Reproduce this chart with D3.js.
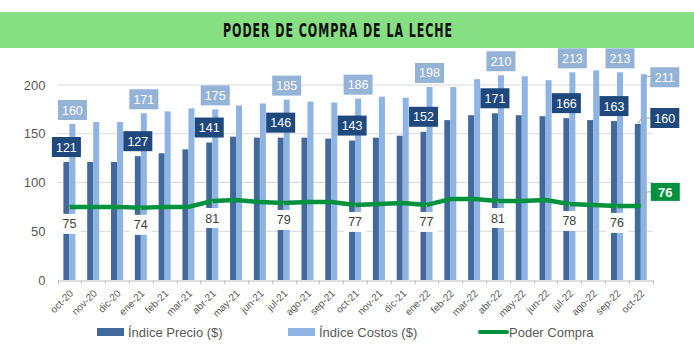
<!DOCTYPE html>
<html>
<head>
<meta charset="utf-8">
<script src="https://cdn.jsdelivr.net/npm/d3@7"></script>
<style>
  body { margin: 0; background: #fff; }
  svg { display: block; }
</style>
</head>
<body>
<script>
var meses = ["oct-20","nov-20","dic-20","ene-21","feb-21","mar-21","abr-21","may-21","jun-21","jul-21","ago-21","sep-21","oct-21","nov-21","dic-21","ene-22","feb-22","mar-22","abr-22","may-22","jun-22","jul-22","ago-22","sep-22","oct-22"];
var precio = [121,121,121,127,130,134,141,147,146,146,146,145,143,146,148,152,164,169,171,169,168,166,164,163,160];
var costos = [160,162,162,171,173,176,175,179,181,185,183,182,186,188,187,198,198,206,210,209,205,213,215,213,211];
var poder  = [75,75,75,74,75,75,81,82,80,79,80,80,77,78,79,77,83,83,81,81,82,78,77,76,76];
var yTicks = [0,50,100,150,200];
// months that carry a value label
var conEtiqueta = [0,3,6,9,12,15,18,21,23,24];

var W = 694, H = 348;
var C_PRECIO = "#41699c", C_COSTOS = "#8eb4e3", C_PODER = "#00923f";
var BOX_PRECIO = "#1f497d", BOX_COSTOS = "#95b3d7";
var FONT = "'Liberation Sans', Arial, sans-serif";

var svg = d3.select("body").append("svg")
  .attr("width", W)
  .attr("height", H);

// title band
svg.append("rect")
  .attr("x", 0).attr("y", 12)
  .attr("width", W).attr("height", 36)
  .attr("fill", "#86df82");
svg.append("text")
  .attr("x", 338).attr("y", 37)
  .attr("text-anchor", "middle")
  .attr("font-family", "'Liberation Sans Narrow', 'DejaVu Sans Condensed', sans-serif")
  .attr("font-weight", "bold")
  .attr("font-size", 19.5)
  .attr("letter-spacing", 1.5)
  .attr("textLength", 230)
  .attr("lengthAdjust", "spacingAndGlyphs")
  .attr("fill", "#111")
  .text("PODER DE COMPRA DE LA LECHE");

var x = d3.scaleBand().domain(meses).range([57.5, 652.7]).padding(0);
var y = d3.scaleLinear().domain([0, 200]).range([280, 85]);
var barW = 6;

// gridlines
svg.append("g").selectAll("line")
  .data(yTicks.slice(1))
  .join("line")
  .attr("x1", 57.5).attr("x2", 652.7)
  .attr("y1", d => y(d)).attr("y2", d => y(d))
  .attr("stroke", "#d9d9d9").attr("stroke-width", 1);

// y axis labels
var yAxis = d3.axisLeft(y).tickValues(yTicks).tickSize(0).tickPadding(12);
var gy = svg.append("g").attr("transform", "translate(57.5,0)").call(yAxis);
gy.select(".domain").remove();
gy.selectAll("text")
  .attr("font-family", FONT).attr("font-size", 13).attr("fill", "#595959");

// bars
var gb = svg.append("g");
gb.selectAll(".precio")
  .data(precio)
  .join("rect")
  .attr("class", "precio")
  .attr("x", (d, i) => x(meses[i]) + x.bandwidth() / 2 - barW)
  .attr("y", d => y(d))
  .attr("width", barW)
  .attr("height", d => y(0) - y(d))
  .attr("fill", C_PRECIO);
gb.selectAll(".costos")
  .data(costos)
  .join("rect")
  .attr("class", "costos")
  .attr("x", (d, i) => x(meses[i]) + x.bandwidth() / 2)
  .attr("y", d => y(d))
  .attr("width", barW)
  .attr("height", d => y(0) - y(d))
  .attr("fill", C_COSTOS);

// x axis with ticks at category edges
var xAxis = d3.axisBottom(x).tickSize(0).tickPadding(0);
var gx = svg.append("g").attr("transform", "translate(0,280.5)").call(xAxis);
gx.select(".domain").attr("stroke", "#bfbfbf");
gx.selectAll("text")
  .attr("font-family", FONT).attr("font-size", 10).attr("fill", "#595959")
  .attr("text-anchor", "end")
  .attr("x", 0).attr("y", 0).attr("dy", "0.35em")
  .attr("transform", "translate(2,11) rotate(-45)");
svg.append("g").selectAll("line")
  .data(meses.concat(["_fin"]))
  .join("line")
  .attr("x1", (d, i) => Math.round(57.5 + i * x.bandwidth()) + 0.5)
  .attr("x2", (d, i) => Math.round(57.5 + i * x.bandwidth()) + 0.5)
  .attr("y1", 280.5).attr("y2", 284)
  .attr("stroke", "#bfbfbf");

// poder de compra line
var linea = d3.line()
  .x((d, i) => x(meses[i]) + x.bandwidth() / 2)
  .y(d => y(d));
svg.append("path")
  .datum(poder)
  .attr("d", linea)
  .attr("fill", "none")
  .attr("stroke", C_PODER)
  .attr("stroke-width", 4.5)
  .attr("stroke-linejoin", "round");

// value labels
var gl = svg.append("g");
function etiqueta(cx, cy, w, txt, fondo, color) {
  gl.append("rect")
    .attr("x", cx - w / 2).attr("y", cy - 10)
    .attr("width", w).attr("height", 20)
    .attr("fill", fondo);
  gl.append("text")
    .attr("x", cx).attr("y", cy + 4.5)
    .attr("text-anchor", "middle")
    .attr("font-family", FONT).attr("font-size", 12.5)
    .attr("fill", color)
    .text(txt);
}
function guia(x1, y1, x2, y2) {
  gl.append("line")
    .attr("x1", x1).attr("y1", y1).attr("x2", x2).attr("y2", y2)
    .attr("stroke", "#a6a6a6").attr("stroke-width", 1);
}

conEtiqueta.forEach(function(i) {
  var cx = x(meses[i]) + x.bandwidth() / 2;
  var ultimo = i === meses.length - 1;
  if (!ultimo) {
    var yl = y(poder[i]);
    guia(cx, yl, cx, yl + 8);
    etiqueta(cx, yl + 17, 22, poder[i], "#fff", "#404040");
    etiqueta(cx + 3, y(costos[i]) - 14, 29, costos[i], BOX_COSTOS, "#fff");
    etiqueta(cx - 3, y(precio[i]) - 15, 29, precio[i], BOX_PRECIO, "#fff");
  } else {
    var lx = cx + 24;
    guia(cx + 3, y(costos[i]) + 2, lx - 14, y(costos[i]) + 2);
    etiqueta(lx, y(costos[i]) + 3, 29, costos[i], BOX_COSTOS, "#fff");
    guia(cx - 3, y(precio[i]), cx + 1, y(precio[i]) - 6);
    guia(cx + 1, y(precio[i]) - 6, lx - 14, y(precio[i]) - 6);
    etiqueta(lx, y(precio[i]) - 6, 29, precio[i], BOX_PRECIO, "#fff");
    guia(cx + 2, y(poder[i]), cx + 6, y(poder[i]) - 14);
    guia(cx + 6, y(poder[i]) - 14, lx - 14, y(poder[i]) - 14);
    gl.append("rect")
      .attr("x", lx - 14).attr("y", y(poder[i]) - 23)
      .attr("width", 29).attr("height", 18)
      .attr("fill", C_PODER);
    gl.append("text")
      .attr("x", lx + 0.5).attr("y", y(poder[i]) - 9)
      .attr("text-anchor", "middle")
      .attr("font-family", FONT).attr("font-size", 13).attr("font-weight", "bold")
      .attr("fill", "#fff")
      .text(poder[i]);
  }
});

// legend
var leyenda = [
  {nombre: "Índice Precio ($)", color: C_PRECIO, tipo: "barra", x: 97},
  {nombre: "Índice Costos ($)", color: C_COSTOS, tipo: "barra", x: 288},
  {nombre: "Poder Compra", color: C_PODER, tipo: "linea", x: 478}
];
var gleg = svg.append("g");
leyenda.forEach(function(d) {
  if (d.tipo === "barra") {
    gleg.append("rect")
      .attr("x", d.x).attr("y", 328)
      .attr("width", 27).attr("height", 8)
      .attr("fill", d.color);
  } else {
    gleg.append("line")
      .attr("x1", d.x + 2).attr("x2", d.x + 29)
      .attr("y1", 332).attr("y2", 332)
      .attr("stroke", d.color).attr("stroke-width", 4)
      .attr("stroke-linecap", "round");
  }
  gleg.append("text")
    .attr("x", d.x + 31).attr("y", 337)
    .attr("font-family", FONT).attr("font-size", 13)
    .attr("fill", "#595959")
    .text(d.nombre);
});
</script>
</body>
</html>
